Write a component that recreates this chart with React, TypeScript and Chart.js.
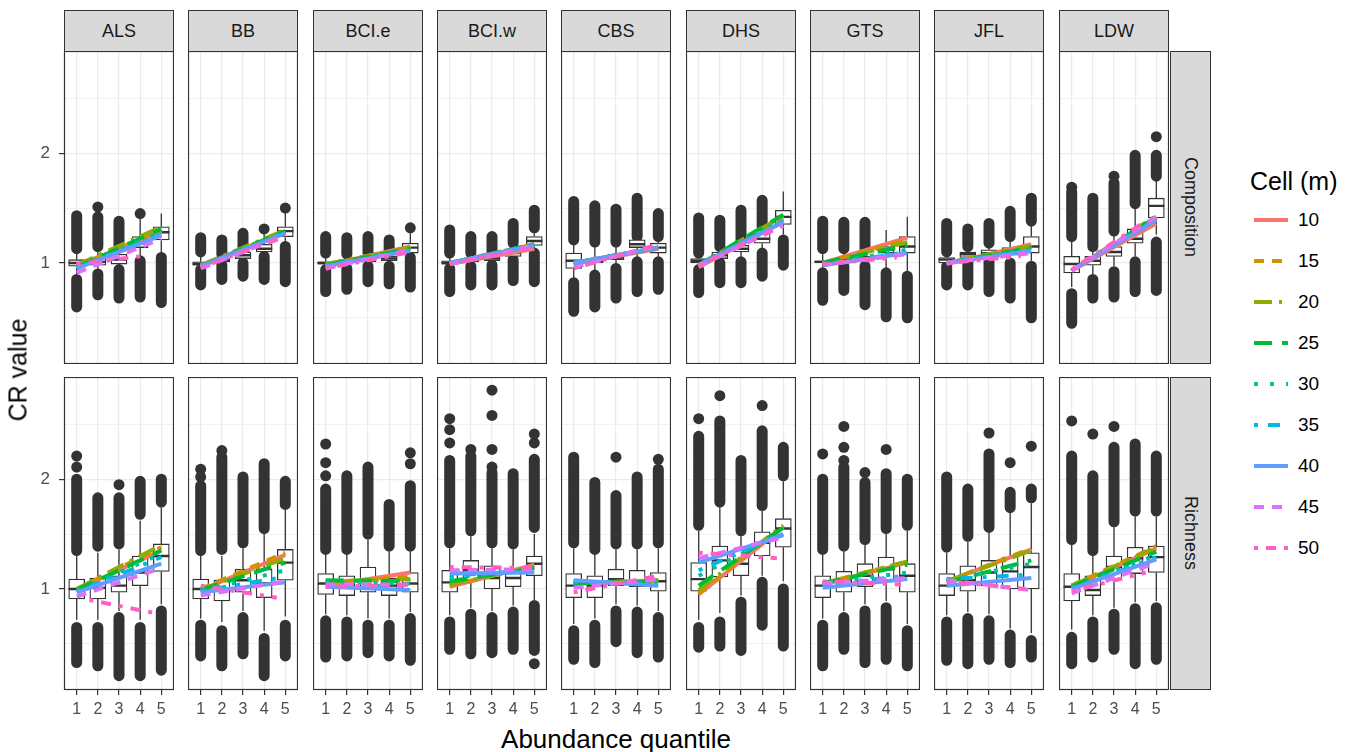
import React, { useEffect, useRef } from "react";
import { Chart, registerables } from "chart.js";

Chart.register(...registerables);

const FONT = "'Liberation Sans', Arial, Helvetica, sans-serif";
Chart.defaults.font.family = FONT;

const sites = ["ALS", "BB", "BCI.e", "BCI.w", "CBS", "DHS", "GTS", "JFL", "LDW"];
const metrics = ["Composition", "Richness"];
const quantiles = [1, 2, 3, 4, 5];
const yTickValues = [0.5, 1, 1.5, 2, 2.5];
const yLabelValues = [1, 2];
const cellSizes = ["10", "15", "20", "25", "30", "35", "40", "45", "50"];
const cellColors = ["#F8766D", "#D39200", "#93AA00", "#00BA38", "#00C19F", "#00B9E3", "#619CFF", "#DB72FB", "#FF61C3"];
const cellDashes = [[], [10, 8], [18, 7, 3, 7], [18, 10], [4, 12], [4, 10, 12, 10], [], [10, 8], [4, 8, 10, 8]];

// box stats per quantile: [lowOutlierMin, lowOutlierMax, whiskerLow, q1, median, q3, whiskerHigh, highOutlierMin, highOutlierMax]
const compositionStats = [
  [[0.60, 0.85, 0.90, 0.97, 1.00, 1.03, 1.10, 1.13, 1.43], [0.71, 0.90, 0.93, 0.98, 1.01, 1.05, 1.12, 1.15, 1.42], [0.68, 0.94, 0.96, 0.99, 1.03, 1.08, 1.12, 1.14, 1.38], [0.69, 1.02, 1.05, 1.14, 1.18, 1.24, 1.40, null, null], [0.64, 1.05, 1.08, 1.21, 1.28, 1.33, 1.45, null, null]],
  [[0.80, 0.94, 0.96, 0.98, 0.99, 1.01, 1.06, 1.10, 1.23], [0.85, 0.98, 1.00, 1.01, 1.02, 1.04, 1.06, 1.08, 1.21], [0.88, 1.00, 1.02, 1.04, 1.07, 1.10, 1.12, 1.14, 1.27], [0.85, 1.06, 1.08, 1.10, 1.13, 1.17, 1.27, null, null], [0.83, 1.15, 1.18, 1.24, 1.29, 1.33, 1.46, null, null]],
  [[0.74, 0.94, 0.97, 0.99, 1.00, 1.01, 1.05, 1.09, 1.24], [0.76, 0.95, 0.98, 1.00, 1.01, 1.03, 1.05, 1.08, 1.23], [0.83, 0.97, 0.99, 1.01, 1.03, 1.05, 1.07, 1.09, 1.24], [0.81, 0.97, 0.99, 1.02, 1.04, 1.06, 1.08, 1.10, 1.21], [0.78, 1.05, 1.07, 1.09, 1.14, 1.18, 1.28, null, null]],
  [[0.74, 0.95, 0.97, 0.99, 1.00, 1.02, 1.06, 1.09, 1.30], [0.80, 0.97, 0.99, 1.01, 1.02, 1.04, 1.07, 1.09, 1.24], [0.80, 0.98, 1.00, 1.02, 1.04, 1.06, 1.08, 1.10, 1.24], [0.84, 1.03, 1.05, 1.06, 1.09, 1.12, 1.15, 1.18, 1.36], [0.83, 1.09, 1.12, 1.16, 1.20, 1.24, 1.29, 1.32, 1.48]],
  [[0.56, 0.82, 0.86, 0.95, 1.02, 1.09, 1.18, 1.21, 1.56], [0.60, 0.89, 0.93, 1.00, 1.02, 1.04, 1.15, 1.19, 1.52], [0.68, 0.95, 0.98, 1.03, 1.05, 1.08, 1.16, 1.19, 1.49], [0.74, 1.01, 1.05, 1.14, 1.17, 1.21, 1.22, 1.24, 1.59], [0.76, 1.01, 1.05, 1.09, 1.14, 1.18, 1.21, 1.24, 1.45]],
  [[0.73, 0.94, 0.97, 1.00, 1.02, 1.04, 1.06, 1.09, 1.41], [0.82, 1.00, 1.02, 1.04, 1.07, 1.10, 1.12, 1.15, 1.39], [0.82, 1.01, 1.05, 1.10, 1.13, 1.16, 1.17, 1.19, 1.48], [0.88, 1.09, 1.13, 1.18, 1.22, 1.27, 1.30, 1.33, 1.57], [0.98, 1.21, 1.26, 1.35, 1.42, 1.48, 1.65, null, null]],
  [[0.66, 0.91, 0.95, 1.00, 1.01, 1.02, 1.08, 1.13, 1.38], [0.75, 0.97, 0.99, 1.01, 1.03, 1.05, 1.10, 1.13, 1.37], [0.62, 0.97, 0.99, 1.02, 1.04, 1.06, 1.10, 1.13, 1.37], [0.51, 0.91, 0.95, 1.09, 1.12, 1.15, 1.30, null, null], [0.50, 0.88, 0.92, 1.09, 1.15, 1.24, 1.42, null, null]],
  [[0.80, 0.97, 0.99, 1.00, 1.03, 1.05, 1.07, 1.10, 1.36], [0.80, 1.01, 1.03, 1.05, 1.08, 1.10, 1.12, 1.15, 1.31], [0.74, 1.01, 1.04, 1.07, 1.09, 1.12, 1.15, 1.18, 1.36], [0.68, 1.00, 1.04, 1.07, 1.10, 1.14, 1.20, 1.24, 1.47], [0.50, 0.97, 1.02, 1.09, 1.15, 1.24, 1.34, 1.38, 1.59]],
  [[0.45, 0.72, 0.78, 0.91, 0.99, 1.06, 1.20, 1.24, 1.65], [0.68, 0.85, 0.90, 0.98, 1.02, 1.06, 1.12, 1.15, 1.59], [0.69, 0.92, 0.97, 1.06, 1.10, 1.15, 1.26, 1.29, 1.73], [0.74, 1.01, 1.06, 1.18, 1.22, 1.31, 1.50, 1.54, 1.98], [0.75, 1.19, 1.26, 1.41, 1.52, 1.59, 1.75, 1.79, 1.98]],
];

const richnessStats = [
  [[0.33, 0.65, 0.72, 0.91, 1.00, 1.09, 1.30, 1.35, 2.00], [0.30, 0.65, 0.72, 0.91, 1.01, 1.10, 1.33, 1.39, 1.83], [0.21, 0.74, 0.80, 0.97, 1.03, 1.12, 1.36, 1.41, 1.83], [0.21, 0.65, 0.72, 1.03, 1.15, 1.30, 1.62, 1.68, 1.98], [0.26, 0.80, 0.86, 1.16, 1.30, 1.41, 1.74, 1.79, 2.00]],
  [[0.39, 0.67, 0.73, 0.91, 1.00, 1.09, 1.30, 1.35, 1.94], [0.30, 0.62, 0.70, 0.89, 1.00, 1.08, 1.30, 1.36, 2.20], [0.41, 0.74, 0.80, 0.97, 1.08, 1.18, 1.37, 1.42, 2.02], [0.21, 0.55, 0.62, 0.92, 1.05, 1.18, 1.50, 1.55, 2.14], [0.39, 0.67, 0.75, 1.08, 1.24, 1.36, 1.72, 1.77, 1.98]],
  [[0.38, 0.71, 0.77, 0.95, 1.05, 1.14, 1.32, 1.36, 1.91], [0.39, 0.70, 0.76, 0.94, 1.03, 1.12, 1.31, 1.36, 2.03], [0.42, 0.67, 0.73, 0.97, 1.08, 1.20, 1.45, 1.50, 2.11], [0.39, 0.67, 0.73, 0.94, 1.03, 1.10, 1.34, 1.39, 1.77], [0.35, 0.73, 0.79, 0.97, 1.05, 1.15, 1.34, 1.39, 1.94]],
  [[0.45, 0.70, 0.76, 0.97, 1.06, 1.17, 1.37, 1.42, 2.17], [0.41, 0.77, 0.83, 1.08, 1.17, 1.26, 1.48, 1.53, 2.21], [0.42, 0.74, 0.80, 1.00, 1.10, 1.21, 1.37, 1.42, 2.06], [0.45, 0.79, 0.85, 1.02, 1.10, 1.18, 1.36, 1.41, 2.05], [0.44, 0.85, 0.90, 1.12, 1.23, 1.30, 1.50, 1.56, 2.18]],
  [[0.36, 0.62, 0.68, 0.92, 1.03, 1.14, 1.37, 1.42, 2.20], [0.33, 0.67, 0.73, 0.92, 1.03, 1.12, 1.31, 1.36, 1.97], [0.52, 0.80, 0.86, 1.03, 1.09, 1.18, 1.36, 1.41, 1.85], [0.42, 0.79, 0.85, 1.02, 1.07, 1.17, 1.36, 1.41, 2.02], [0.38, 0.74, 0.80, 0.98, 1.07, 1.15, 1.37, 1.42, 2.09]],
  [[0.47, 0.65, 0.72, 0.98, 1.09, 1.24, 1.53, 1.58, 2.39], [0.48, 0.70, 0.78, 1.11, 1.26, 1.39, 1.74, 1.79, 2.53], [0.44, 0.88, 0.94, 1.12, 1.23, 1.36, 1.48, 1.53, 2.17], [0.67, 1.06, 1.12, 1.30, 1.42, 1.52, 1.71, 1.76, 2.44], [0.48, 1.00, 1.07, 1.38, 1.55, 1.64, 1.98, 2.03, 2.29]],
  [[0.30, 0.67, 0.73, 0.92, 1.03, 1.12, 1.31, 1.36, 2.00], [0.45, 0.74, 0.80, 0.97, 1.08, 1.16, 1.34, 1.39, 2.11], [0.33, 0.80, 0.86, 1.02, 1.12, 1.23, 1.40, 1.45, 1.97], [0.36, 0.83, 0.89, 1.08, 1.18, 1.29, 1.50, 1.55, 2.05], [0.30, 0.62, 0.68, 0.97, 1.12, 1.23, 1.53, 1.58, 2.00]],
  [[0.35, 0.70, 0.76, 0.94, 1.03, 1.14, 1.33, 1.38, 2.02], [0.32, 0.73, 0.79, 0.98, 1.08, 1.21, 1.43, 1.48, 1.91], [0.36, 0.71, 0.77, 1.03, 1.15, 1.26, 1.51, 1.56, 2.23], [0.33, 0.58, 0.64, 1.00, 1.16, 1.29, 1.70, 1.74, 1.88], [0.38, 0.53, 0.60, 1.00, 1.20, 1.33, 1.78, 1.83, 1.91]],
  [[0.32, 0.56, 0.63, 0.89, 1.02, 1.14, 1.40, 1.45, 2.21], [0.38, 0.70, 0.76, 0.94, 0.99, 1.12, 1.30, 1.35, 2.03], [0.45, 0.77, 0.83, 1.08, 1.20, 1.30, 1.56, 1.61, 2.29], [0.32, 0.82, 0.88, 1.14, 1.28, 1.38, 1.66, 1.71, 2.32], [0.36, 0.83, 0.89, 1.15, 1.29, 1.39, 1.66, 1.71, 2.21]],
];

// isolated outliers: [quantile, value]
const compositionPoints = [
  [[2, 1.51], [4, 1.45]],
  [[4, 1.31], [5, 1.50]],
  [[5, 1.32]],
  [],
  [],
  [],
  [],
  [],
  [[1, 1.69], [3, 1.79], [5, 2.15]],
];

const richnessPoints = [
  [[1, 2.11], [1, 2.21], [3, 1.95]],
  [[1, 2.02], [1, 2.09], [2, 2.26]],
  [[1, 2.03], [1, 2.15], [1, 2.32], [5, 2.14], [5, 2.24]],
  [[1, 2.33], [1, 2.45], [1, 2.55], [2, 2.27], [3, 2.11], [3, 2.27], [3, 2.58], [3, 2.81], [5, 2.33], [5, 2.41], [5, 0.32]],
  [[3, 2.20], [5, 2.18]],
  [[1, 2.55], [2, 2.76], [4, 2.67]],
  [[1, 2.23], [2, 2.17], [2, 2.29], [2, 2.48], [3, 2.06], [4, 2.27]],
  [[3, 2.42], [4, 2.15], [5, 2.30]],
  [[1, 2.53], [2, 2.41], [3, 2.48]],
];

// trend lines per cell size: [xStart, yStart, xEnd, yEnd]
const compositionTrends = [
  [[1, 0.97, 5, 1.29], [1, 0.97, 5, 1.30], [1, 0.98, 5, 1.33], [1, 0.96, 5, 1.31], [1, 0.96, 5, 1.28], [1, 0.95, 5, 1.26], [1, 0.95, 5, 1.25], [1, 0.91, 5, 1.22], [1, 0.99, 4, 1.06]],
  [[1, 0.97, 5, 1.28], [1, 0.97, 5, 1.29], [1, 0.98, 5, 1.30], [1, 0.97, 5, 1.29], [1, 0.97, 5, 1.28], [1, 0.97, 5, 1.27], [1, 0.97, 5, 1.27], [1, 0.95, 5, 1.25], [1, 0.96, 5, 1.24]],
  [[1, 0.98, 5, 1.15], [1, 0.98, 5, 1.14], [1, 0.99, 5, 1.14], [1, 0.98, 5, 1.13], [1, 0.98, 5, 1.12], [1, 0.97, 5, 1.12], [1, 0.97, 5, 1.11], [1, 0.95, 5, 1.12], [1, 0.95, 5, 1.10]],
  [[1, 0.99, 5, 1.13], [1, 1.00, 5, 1.16], [1, 1.00, 5, 1.17], [1, 1.00, 5, 1.17], [1, 1.00, 5, 1.17], [1, 1.00, 5, 1.16], [1, 1.00, 5, 1.16], [1, 0.99, 5, 1.16], [1, 0.99, 5, 1.14]],
  [[1, 0.99, 5, 1.13], [1, 1.00, 5, 1.14], [1, 1.00, 5, 1.14], [1, 1.00, 5, 1.14], [1, 1.00, 5, 1.14], [1, 1.00, 5, 1.14], [1, 1.00, 5, 1.14], [1, 0.96, 5, 1.16], [1, 0.95, 5, 1.17]],
  [[1, 0.96, 5, 1.38], [1, 0.97, 5, 1.40], [1, 0.98, 5, 1.43], [1, 0.98, 5, 1.44], [1, 0.98, 5, 1.40], [1, 0.98, 5, 1.38], [1, 0.98, 5, 1.37], [1, 0.97, 5, 1.34], [1, 0.98, 4.5, 1.30]],
  [[1, 1.00, 5, 1.23], [1, 1.00, 5, 1.21], [1, 1.00, 5, 1.19], [1, 1.00, 5, 1.16], [1, 0.99, 5, 1.12], [1, 0.98, 5, 1.10], [1, 0.98, 5, 1.09], [1, 0.98, 5, 1.08], [1, 0.99, 4.5, 1.05]],
  [[1, 0.99, 5, 1.17], [1, 1.00, 5, 1.16], [1, 1.00, 5, 1.15], [1, 1.00, 5, 1.14], [1, 1.00, 5, 1.13], [1, 1.00, 5, 1.12], [1, 1.00, 5, 1.11], [1, 1.00, 5, 1.09], [1, 1.00, 4.5, 1.06]],
  [[1, 0.93, 5, 1.36], [1, 0.93, 5, 1.40], [1, 0.93, 5, 1.43], [1, 0.93, 5, 1.42], [1, 0.93, 5, 1.41], [1, 0.93, 5, 1.40], [1, 0.93, 5, 1.39], [1, 0.93, 5, 1.42], [1, 0.94, 4.5, 1.38]],
];

const richnessTrends = [
  [[1, 0.99, 5, 1.35], [1, 1.00, 5, 1.38], [1, 1.00, 5, 1.40], [1, 0.99, 5, 1.35], [1, 0.98, 5, 1.32], [1, 0.97, 5, 1.29], [1, 0.97, 5, 1.23], [1, 0.93, 5, 1.19], [1.6, 0.90, 4.7, 0.78]],
  [[1, 0.99, 5, 1.31], [1, 1.00, 5, 1.33], [1, 0.99, 5, 1.28], [1, 0.99, 5, 1.24], [1, 0.98, 5, 1.17], [1, 0.98, 5, 1.11], [1, 0.97, 5, 1.06], [1, 0.94, 5, 1.07], [1, 1.03, 4.6, 0.92]],
  [[1, 1.03, 5, 1.15], [1, 1.06, 5, 1.11], [1, 1.07, 5, 1.09], [1, 1.08, 5, 1.07], [1, 1.06, 5, 1.05], [1, 1.02, 5, 1.03], [1, 1.02, 5, 0.99], [1, 1.04, 5, 1.04], [1, 1.02, 5, 1.04]],
  [[1, 1.02, 5, 1.22], [1, 1.03, 5, 1.21], [1, 1.04, 5, 1.20], [1, 1.07, 5, 1.19], [1, 1.10, 5, 1.18], [1, 1.12, 5, 1.17], [1, 1.14, 5, 1.15], [1, 1.17, 5, 1.18], [1, 1.20, 5, 1.19]],
  [[1, 1.05, 5, 1.08], [1, 1.06, 5, 1.07], [1, 1.05, 5, 1.08], [1, 1.05, 5, 1.07], [1, 1.06, 5, 1.06], [1, 1.07, 5, 1.04], [1, 1.08, 5, 1.03], [1, 1.01, 5, 1.09], [1, 0.97, 5, 1.12]],
  [[1, 0.95, 5, 1.56], [1, 0.96, 5, 1.57], [1, 0.99, 5, 1.58], [1, 1.03, 5, 1.56], [1, 1.12, 5, 1.52], [1, 1.17, 5, 1.50], [1, 1.24, 5, 1.49], [1, 1.28, 5, 1.47], [1, 1.33, 4.7, 1.28]],
  [[1, 1.04, 5, 1.24], [1, 1.05, 5, 1.25], [1, 1.05, 5, 1.25], [1, 1.05, 5, 1.22], [1, 1.05, 5, 1.15], [1, 1.04, 5, 1.12], [1, 1.01, 5, 1.09], [1, 1.05, 5, 1.10], [1, 1.07, 4.7, 1.04]],
  [[1, 1.07, 5, 1.36], [1, 1.07, 5, 1.37], [1, 1.07, 5, 1.35], [1, 1.06, 5, 1.26], [1, 1.08, 5, 1.23], [1, 1.09, 5, 1.13], [1, 1.03, 5, 1.10], [1, 1.08, 5, 0.99], [1, 1.07, 4.7, 1.00]],
  [[1, 1.02, 5, 1.37], [1, 1.03, 5, 1.39], [1, 1.03, 5, 1.38], [1, 1.02, 5, 1.34], [1, 1.01, 5, 1.31], [1, 1.00, 5, 1.29], [1, 1.00, 5, 1.27], [1, 0.96, 5, 1.24], [1, 0.98, 4.5, 1.15]],
];

const X_MIN = 0.4;
const X_MAX = 5.6;
const Y_MIN = 0.08;
const Y_MAX = 2.93;
const BOX_HALF = 0.38;
const DARK = "#333333";
const GRID = "#ebebeb";

const COL_STEP = 124.33;
const PANEL_LEFT0 = 64;
const PANEL_W = 110;
const PANEL_H = 313;
const ROW_TOPS = [51, 377];
const Y_AXIS_W = 64;
const X_AXIS_H = 30;

const framePlugin = {
  id: "panelFrame",
  afterDraw(chart: any) {
    const { ctx, chartArea: a } = chart;
    ctx.save();
    ctx.strokeStyle = DARK;
    ctx.lineWidth = 1.2;
    ctx.strokeRect(a.left + 0.5, a.top + 0.5, a.right - a.left - 1, a.bottom - a.top - 1);
    ctx.restore();
  },
};

function buildDatasets(stats: any[], points: number[][], trends: number[][]) {
  const columns: any[] = [];
  const whiskers: any[] = [];
  const medians: any[] = [];
  const boxes: any[] = [];
  stats.forEach((s, i) => {
    const x = quantiles[i];
    const [loMin, loMax, whLo, q1, med, q3, whHi, hiMin, hiMax] = s;
    if (loMin !== null) columns.push({ x, y: loMin }, { x, y: loMax }, { x, y: null });
    if (hiMin !== null) columns.push({ x, y: hiMin }, { x, y: hiMax }, { x, y: null });
    whiskers.push({ x, y: whLo }, { x, y: q1 }, { x, y: null }, { x, y: q3 }, { x, y: whHi }, { x, y: null });
    medians.push({ x: x - BOX_HALF, y: med }, { x: x + BOX_HALF, y: med }, { x, y: null });
    boxes.push({ x, y: [q1, q3] });
  });
  const ds: any[] = [];
  trends.forEach((t, k) => {
    ds.push({
      type: "line",
      data: [{ x: t[0], y: t[1] }, { x: t[2], y: t[3] }],
      borderColor: cellColors[k],
      borderDash: cellDashes[k],
      borderWidth: 4,
      borderCapStyle: "butt",
      pointRadius: 0,
      order: 10 - k,
    });
  });
  ds.push({ type: "line", data: medians, borderColor: DARK, borderWidth: 2.4, pointRadius: 0, borderCapStyle: "butt", order: 20 });
  ds.push({
    type: "bar",
    data: boxes,
    backgroundColor: "#ffffff",
    borderColor: DARK,
    borderWidth: 1.3,
    borderSkipped: false,
    barThickness: 16,
    grouped: false,
    order: 25,
  });
  ds.push({ type: "line", data: whiskers, borderColor: DARK, borderWidth: 1.3, pointRadius: 0, order: 30 });
  ds.push({ type: "line", data: columns, borderColor: DARK, borderWidth: 11, borderCapStyle: "round", pointRadius: 0, order: 31 });
  ds.push({
    type: "scatter",
    data: points.map((p) => ({ x: p[0], y: p[1] })),
    pointRadius: 5.5,
    pointBackgroundColor: DARK,
    pointBorderWidth: 0,
    order: 32,
  });
  return ds;
}

function Panel({ col, row }: { col: number; row: number }) {
  const ref = useRef<HTMLCanvasElement | null>(null);
  const isLeft = col === 0;
  const isBottom = row === 1;
  const panelLeft = Math.round(PANEL_LEFT0 + col * COL_STEP);
  const left = isLeft ? panelLeft - Y_AXIS_W : panelLeft;
  const width = isLeft ? PANEL_W + Y_AXIS_W : PANEL_W;
  const top = ROW_TOPS[row];
  const height = isBottom ? PANEL_H + X_AXIS_H : PANEL_H;

  useEffect(() => {
    const stats = row === 0 ? compositionStats[col] : richnessStats[col];
    const pts = row === 0 ? compositionPoints[col] : richnessPoints[col];
    const trends = row === 0 ? compositionTrends[col] : richnessTrends[col];
    const chart = new Chart(ref.current as HTMLCanvasElement, {
      type: "scatter",
      data: { datasets: buildDatasets(stats, pts, trends) },
      options: {
        animation: false,
        responsive: true,
        maintainAspectRatio: false,
        events: [],
        layout: { padding: 0, autoPadding: false },
        plugins: { legend: { display: false }, tooltip: { enabled: false } },
        scales: {
          x: {
            type: "linear",
            min: X_MIN,
            max: X_MAX,
            offset: false,
            afterBuildTicks: (s: any) => {
              s.ticks = quantiles.map((v) => ({ value: v }));
            },
            afterFit: (s: any) => {
              s.height = isBottom ? X_AXIS_H : 0;
              s.paddingLeft = 0;
              s.paddingRight = 0;
            },
            border: { display: false },
            grid: {
              offset: false,
              color: GRID,
              lineWidth: 1.2,
              drawTicks: isBottom,
              tickLength: 5,
              tickColor: DARK,
              tickWidth: 1.2,
            },
            ticks: {
              display: isBottom,
              autoSkip: false,
              maxRotation: 0,
              padding: 5,
              color: "#4d4d4d",
              font: { size: 16, family: FONT },
              callback: (v: any) => String(v),
            },
          },
          y: {
            type: "linear",
            min: Y_MIN,
            max: Y_MAX,
            afterBuildTicks: (s: any) => {
              s.ticks = yTickValues.map((v) => ({ value: v }));
            },
            afterFit: (s: any) => {
              s.width = isLeft ? Y_AXIS_W : 0;
              s.paddingTop = 0;
              s.paddingBottom = 0;
              s.paddingLeft = 0;
              s.paddingRight = 0;
            },
            border: { display: false },
            grid: {
              color: GRID,
              lineWidth: (ctx: any) => (ctx.tick && yLabelValues.includes(ctx.tick.value) ? 1.2 : 0.7),
              drawTicks: isLeft,
              tickLength: 5,
              tickWidth: 1.2,
              tickColor: (ctx: any) => (ctx.tick && yLabelValues.includes(ctx.tick.value) ? DARK : "rgba(0,0,0,0)"),
            },
            ticks: {
              display: isLeft,
              autoSkip: false,
              padding: 9,
              color: "#4d4d4d",
              font: { size: 17, family: FONT },
              callback: (v: any) => (yLabelValues.includes(v) ? String(v) : ""),
            },
          },
        },
      } as any,
      plugins: [framePlugin],
    } as any);
    return () => chart.destroy();
  }, [col, row]);

  return (
    <div style={{ position: "absolute", left, top, width, height }}>
      <canvas ref={ref} />
    </div>
  );
}

export default function App() {
  const textStyle = { fontFamily: FONT, color: "#1a1a1a" };
  return (
    <div style={{ position: "absolute", left: 0, top: 0, width: 1354, height: 752, background: "#ffffff", overflow: "hidden" }}>
      {sites.map((s, c) => (
        <div
          key={s}
          style={{
            ...textStyle,
            position: "absolute",
            left: Math.round(PANEL_LEFT0 + c * COL_STEP),
            top: 10,
            width: PANEL_W,
            height: 42,
            boxSizing: "border-box",
            border: `1px solid ${DARK}`,
            background: "#d9d9d9",
            display: "flex",
            alignItems: "center",
            justifyContent: "center",
            fontSize: 18,
          }}
        >
          {s}
        </div>
      ))}
      {metrics.map((m, r) => (
        <div
          key={m}
          style={{
            ...textStyle,
            position: "absolute",
            left: 1170,
            top: ROW_TOPS[r],
            width: 41,
            height: PANEL_H,
            boxSizing: "border-box",
            border: `1px solid ${DARK}`,
            background: "#d9d9d9",
            display: "flex",
            alignItems: "center",
            justifyContent: "center",
            fontSize: 18,
          }}
        >
          <span style={{ writingMode: "vertical-rl" }}>{m}</span>
        </div>
      ))}
      {[0, 1].map((r) => sites.map((s, c) => <Panel key={`${r}-${c}`} col={c} row={r} />))}
      <div
        style={{
          position: "absolute",
          left: 18,
          top: 370,
          transform: "translate(-50%, -50%) rotate(-90deg)",
          fontFamily: FONT,
          fontSize: 25,
          color: "#000",
          whiteSpace: "nowrap",
        }}
      >
        CR value
      </div>
      <div
        style={{
          position: "absolute",
          left: 616,
          top: 739,
          transform: "translate(-50%, -50%)",
          fontFamily: FONT,
          fontSize: 26,
          color: "#000",
          whiteSpace: "nowrap",
        }}
      >
        Abundance quantile
      </div>
      <div style={{ position: "absolute", left: 1250, top: 167, fontFamily: FONT, fontSize: 25, color: "#000", whiteSpace: "nowrap" }}>
        Cell (m)
      </div>
      {cellSizes.map((c, k) => (
        <div key={c} style={{ position: "absolute", left: 1253, top: 220 + k * 41 - 12, height: 24, display: "flex", alignItems: "center" }}>
          <svg width={36} height={10} style={{ display: "block" }}>
            <line x1={1} y1={5} x2={35} y2={5} stroke={cellColors[k]} strokeWidth={4} strokeDasharray={cellDashes[k].length ? cellDashes[k].join(" ") : undefined} />
          </svg>
          <span style={{ marginLeft: 9, fontFamily: FONT, fontSize: 19, color: "#000" }}>{c}</span>
        </div>
      ))}
    </div>
  );
}
